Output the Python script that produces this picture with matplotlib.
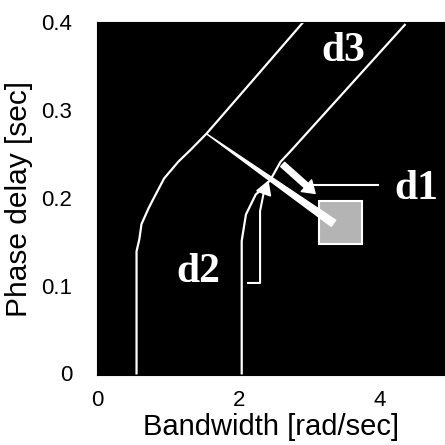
import numpy as np
import matplotlib.pyplot as plt
from matplotlib.patches import Rectangle

# outer boundary (left curve), bandwidth [rad/sec] vs phase delay [sec]
outer_bw = [0.55, 0.55, 0.59, 0.62, 0.72, 0.79, 0.94, 1.14, 1.32, 1.54, 2.21, 2.91]
outer_pd = [0.0, 0.139, 0.153, 0.170, 0.188, 0.199, 0.222, 0.241, 0.255, 0.273, 0.335, 0.400]

# inner boundary (right curve)
inner_bw = [2.04, 2.04, 2.10, 2.24, 2.35, 2.45, 2.59, 2.73, 4.35]
inner_pd = [0.0, 0.151, 0.181, 0.204, 0.211, 0.221, 0.241, 0.253, 0.397]

# distance annotations
d1_start = (1.54, 0.273)
d1_end = (3.34, 0.171)
d1_arrow = [(2.62, 0.238), (3.08, 0.205)]
d1_leader_bw = [3.06, 3.97]
d1_leader_pd = 0.215
d2_path_bw = [2.13, 2.30, 2.30, 2.35]
d2_path_pd = [0.103, 0.103, 0.185, 0.205]
d2_head = (2.42, 0.220)
box_corner = (3.13, 0.147)
box_w, box_h = 0.62, 0.049

labels = {"d1": (4.52, 0.210), "d2": (1.42, 0.115), "d3": (3.48, 0.367)}

fig = plt.figure(figsize=(4.45, 4.45), dpi=100)
ax = fig.add_axes([0.218, 0.157, 0.782, 0.793])
ax.set_facecolor("black")
for s in ax.spines.values():
    s.set_color("black")

ax.plot(outer_bw, outer_pd, color="white", lw=1.6)
ax.plot(inner_bw, inner_pd, color="white", lw=1.6)

# tapered thick line from the corner down to the box
ax.annotate("", xy=d1_start, xytext=d1_end,
            arrowprops=dict(arrowstyle="wedge,tail_width=0.55,shrink_factor=0.5",
                            color="white", shrinkA=0, shrinkB=0, mutation_scale=10),
            zorder=5)
ax.add_patch(Rectangle(box_corner, box_w, box_h, facecolor="#b4b4b4",
                       edgecolor="white", lw=1.5, zorder=4))

ax.annotate("", xy=d1_arrow[1], xytext=d1_arrow[0],
            arrowprops=dict(arrowstyle="simple,head_length=0.6,head_width=0.8,tail_width=0.3",
                            color="white", shrinkA=0, shrinkB=0, mutation_scale=14))
ax.plot(d1_leader_bw, [d1_leader_pd, d1_leader_pd], color="white", lw=1.5)

ax.plot(d2_path_bw, d2_path_pd, color="white", lw=1.5)
ax.annotate("", xy=d2_head, xytext=(d2_path_bw[-1], d2_path_pd[-1]),
            arrowprops=dict(arrowstyle="-|>,head_length=0.6,head_width=0.35",
                            color="white", lw=1.5, shrinkA=0, shrinkB=0, mutation_scale=14))

for name, (bx, py) in labels.items():
    ax.text(bx, py, name, color="white", fontsize=30, fontweight="bold",
            family="Liberation Serif", ha="center", va="center")

ax.set_xlim(-0.01, 4.92)
ax.set_ylim(-0.002, 0.4)
ax.set_xticks([0, 2, 4])
ax.set_xticklabels(["0", "2", "4"])
ax.set_yticks([0, 0.1, 0.2, 0.3, 0.4])
ax.set_yticklabels(["0", "0.1", "0.2", "0.3", "0.4"])
ax.tick_params(axis="y", length=0, pad=18, labelsize=16)
ax.tick_params(axis="x", length=0, pad=11, labelsize=16)
for t in ax.get_xticklabels() + ax.get_yticklabels():
    t.set_family("Liberation Sans")

ax.set_xlabel("Bandwidth [rad/sec]", fontsize=21, family="Liberation Sans", labelpad=1)
ax.set_ylabel("Phase delay [sec]", fontsize=21.5, family="Liberation Sans", labelpad=6)

fig.savefig("out.png", dpi=100)
